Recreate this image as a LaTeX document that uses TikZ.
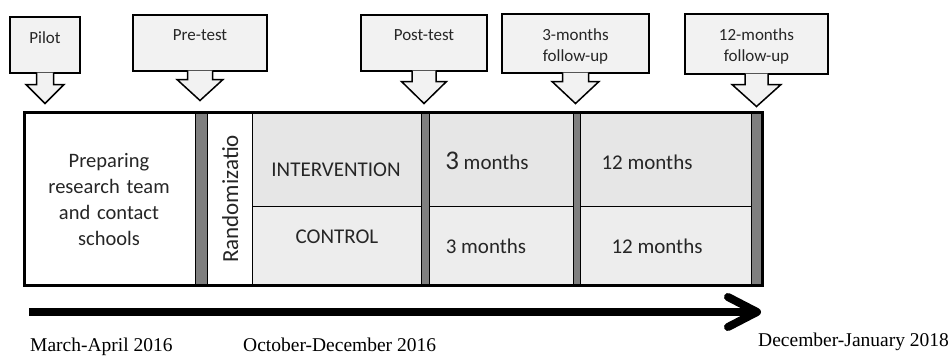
\documentclass[tikz,border=0pt]{standalone}
\usepackage{fontspec}
\setmainfont{Carlito}
\newfontfamily\datefont{Liberation Serif}
\usepackage{xcolor}
\usetikzlibrary{calc}

\definecolor{barfill}{HTML}{7F7F7F}
\definecolor{callfill}{HTML}{F2F2F2}
\definecolor{topfill}{HTML}{E6E6E6}
\definecolor{botfill}{HTML}{EDEDED}
\definecolor{txt}{HTML}{262626}

% стрелка под блоком: узел, полуширина ствола, полуширина головки, длина ствола, длина головки
\newcommand{\blockarrow}[5]{%
  \filldraw[callarrow] ($(#1.south)+(-#2,-1)$) -- ($(#1.south)+(-#2,#4)$)
    -- ($(#1.south)+(-#3,#4)$) -- ($(#1.south)+(0,#4+#5)$)
    -- ($(#1.south)+(#3,#4)$) -- ($(#1.south)+(#2,#4)$) -- ($(#1.south)+(#2,-1)$);
}

\begin{document}
\begin{tikzpicture}[x=1pt, y=-1pt,
  callbox/.style={draw, line width=1.5, fill=callfill, anchor=north, inner sep=0},
  calltext/.style={font=\fontsize{17}{21}\selectfont, text=txt, align=center, inner sep=0, anchor=base},
  callarrow/.style={draw, line width=1.5, fill=callfill, line join=miter},
  cellline/.style={line width=1},
  celltext/.style={font=\fontsize{21}{26}\selectfont, text=txt, align=center, inner sep=0, anchor=base},
  datetext/.style={font=\datefont\fontsize{19.5}{22}\selectfont, inner sep=0, anchor=base west}]
\useasboundingbox (0,0) rectangle (951,356);
% ячейки
\draw [cellline, fill=white] (24,112) rectangle (195,285);
\draw [cellline, fill=barfill] (195,112) rectangle (207,285);
\draw [cellline, fill=white] (207,112) rectangle (252,285);
\draw [cellline, fill=topfill] (252,112) rectangle (421,206);
\draw [cellline, fill=botfill] (252,206) rectangle (421,285);
\draw [cellline, fill=barfill] (421,112) rectangle (429,285);
\draw [cellline, fill=topfill] (429,112) rectangle (573,206);
\draw [cellline, fill=botfill] (429,206) rectangle (573,285);
\draw [cellline, fill=barfill] (573,112) rectangle (580,285);
\draw [cellline, fill=topfill] (580,112) rectangle (751,206);
\draw [cellline, fill=botfill] (580,206) rectangle (751,285);
\draw [cellline, fill=barfill] (751,112) rectangle (762,285);
\draw [line width=3] (24,112) rectangle (762,285);
% текст в ячейках
\node [celltext, text width=170, font=\fontsize{20.5}{26}\selectfont] (prep) at (109,167) {Preparing\\research team\\and contact\\schools};
\node [celltext, rotate=90, anchor=base west] (rand) at (238,263) {\fontsize{23}{26}\selectfont Randomizatio};
\node [celltext] (interv) at (336,176) {INTERVENTION};
\node [celltext] (contr) at (337,243) {CONTROL};
\node [celltext] (intthree) at (487,169) {{\fontsize{27}{27}\selectfont 3} months};
\node [celltext] (inttwelve) at (647,169) {12 months};
\node [celltext] (conthree) at (486,253) {3 months};
\node [celltext] (contwelve) at (657,253) {12 months};
% блоки со стрелками
\node [callbox, minimum width=70, minimum height=56] (pilot) at (45,16) {};
\node [callbox, minimum width=134, minimum height=56] (pretest) at (200,14) {};
\node [callbox, minimum width=126, minimum height=56] (posttest) at (424,14) {};
\node [callbox, minimum width=147, minimum height=59] (fupthree) at (575.5,13) {};
\node [callbox, minimum width=143, minimum height=60] (fuptwelve) at (756.5,13) {};
\blockarrow{pilot}{8.5}{19}{11}{19}
\blockarrow{pretest}{12.5}{23}{8}{21}
\blockarrow{posttest}{12}{22.5}{10}{22}
\blockarrow{fupthree}{13}{23.5}{8}{22}
\blockarrow{fuptwelve}{11.5}{24.5}{10}{22}
\node [calltext, text width=70] (pilottxt) at ($(pilot.north)+(0,27)$) {Pilot};
\node [calltext, text width=134] (pretesttxt) at ($(pretest.north)+(0,26)$) {Pre-test};
\node [calltext, text width=126] (posttesttxt) at ($(posttest.north)+(0,26)$) {Post-test};
\node [calltext, text width=147] (fupthreetxt) at ($(fupthree.north)+(0,27)$) {3-months\\follow-up};
\node [calltext, text width=143] (fuptwelvetxt) at ($(fuptwelve.north)+(0,27)$) {12-months\\follow-up};
% ось времени
\coordinate (tstart) at (29,312);
\coordinate (ttip) at (757,312);
\draw [line width=8] (tstart) -- ($(ttip)+(-4,0)$);
\draw [line width=8, line cap=round, line join=round] ($(ttip)+(-29,-15)$) -- (ttip) -- ($(ttip)+(-29,15)$);
% подписи
\node [datetext] (dstart) at (30,351) {March-April 2016};
\node [datetext] (dmid) at (243,351) {October-December 2016};
\node [datetext] (dend) at (758,346) {December-January 2018};
\end{tikzpicture}
\end{document}
